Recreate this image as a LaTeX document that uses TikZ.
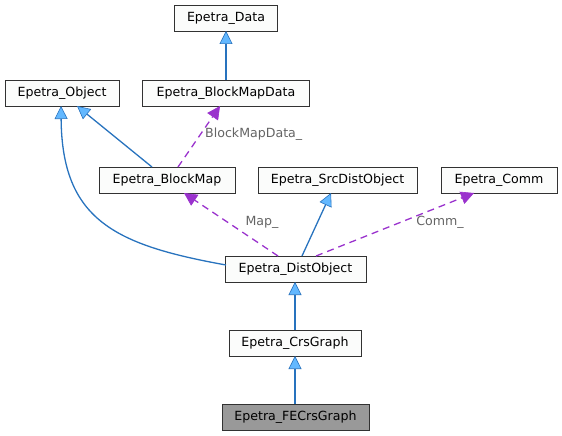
\documentclass[tikz,border=0pt]{standalone}
\usepackage{fontspec}
\setmainfont{DejaVu Sans}
\usetikzlibrary{arrows.meta}
\definecolor{edgeblue}{RGB}{40,115,190}
\definecolor{tipblue}{RGB}{99,184,255}
\definecolor{edgepurple}{RGB}{154,50,205}
\definecolor{boxborder}{RGB}{50,50,50}
\definecolor{boxfill}{RGB}{251,252,251}
\definecolor{labelgray}{RGB}{100,100,100}
\tikzset{
  cls/.style={draw=boxborder, fill=boxfill, line width=0.9pt, minimum height=26pt, inner xsep=6pt, font=\fontsize{12.6}{15}\selectfont, anchor=center},
  inherit/.style={draw=edgeblue, line width=1.3pt, -{Triangle[length=13pt,width=13pt,fill=tipblue,line width=0.6pt]}},
  usage/.style={draw=edgepurple, line width=1.3pt, dash pattern=on 7pt off 5pt, -{Triangle[length=13pt,width=13pt,fill=edgepurple,line width=0.6pt]}},
  elabel/.style={text=labelgray, font=\fontsize{12.6}{15}\selectfont, inner sep=1pt}
}
\begin{document}
\begin{tikzpicture}[x=1pt,y=-1pt]
\useasboundingbox (0,0) rectangle (562,436);
\node[cls, minimum width=103pt] (data) at (226,18) {Epetra\_Data};
\node[cls, minimum width=114pt] (obj) at (62,93) {Epetra\_Object};
\node[cls, minimum width=167pt] (bmd) at (226,93) {Epetra\_BlockMapData};
\node[cls, minimum width=136pt] (bm) at (167,180) {Epetra\_BlockMap};
\node[cls, minimum width=159pt] (src) at (337.5,180) {Epetra\_SrcDistObject};
\node[cls, minimum width=116pt] (comm) at (499,180) {Epetra\_Comm};
\node[cls, minimum width=141pt] (dist) at (295.5,269) {Epetra\_DistObject};
\node[cls, minimum width=132pt] (crs) at (295,343) {Epetra\_CrsGraph};
\node[cls, minimum width=147pt, fill={rgb,255:red,153;green,153;blue,153}] (fe) at (295.5,417) {Epetra\_FECrsGraph};

\coordinate (bmdtop) at (226,80);
\coordinate (datab) at (226,31);
\draw[inherit] (bmdtop) -- (datab);
\coordinate (bmtopl) at (152,167);
\coordinate (objbr) at (77,106);
\draw[inherit] (bmtopl) -- (objbr);
\coordinate (distl) at (226,265);
\coordinate (objb) at (61,106);
\draw[inherit] (distl) .. controls (115,245) and (62,220) .. (objb);
\coordinate (bmtopm) at (178,167);
\coordinate (bmdb) at (220,106);
\draw[usage] (bmtopm) -- (bmdb);
\node[elabel, anchor=west] (l1) at (204,134) {BlockMapData\_};
\coordinate (distt1) at (278,256);
\coordinate (bmb) at (184,193);
\draw[usage] (distt1) -- (bmb);
\node[elabel] (l2) at (262,222) {Map\_};
\coordinate (distt2) at (302,256);
\coordinate (srcb) at (331,193);
\draw[inherit] (distt2) -- (srcb);
\coordinate (distt3) at (316,256);
\coordinate (commb) at (474,193);
\draw[usage] (distt3) -- (commb);
\node[elabel] (l3) at (440,222) {Comm\_};
\coordinate (crst) at (295,330);
\coordinate (distb) at (295,282);
\coordinate (fet) at (295,404);
\coordinate (crsb) at (295,356);
\draw[inherit] (crst) -- (distb);
\draw[inherit] (fet) -- (crsb);
\end{tikzpicture}
\end{document}
